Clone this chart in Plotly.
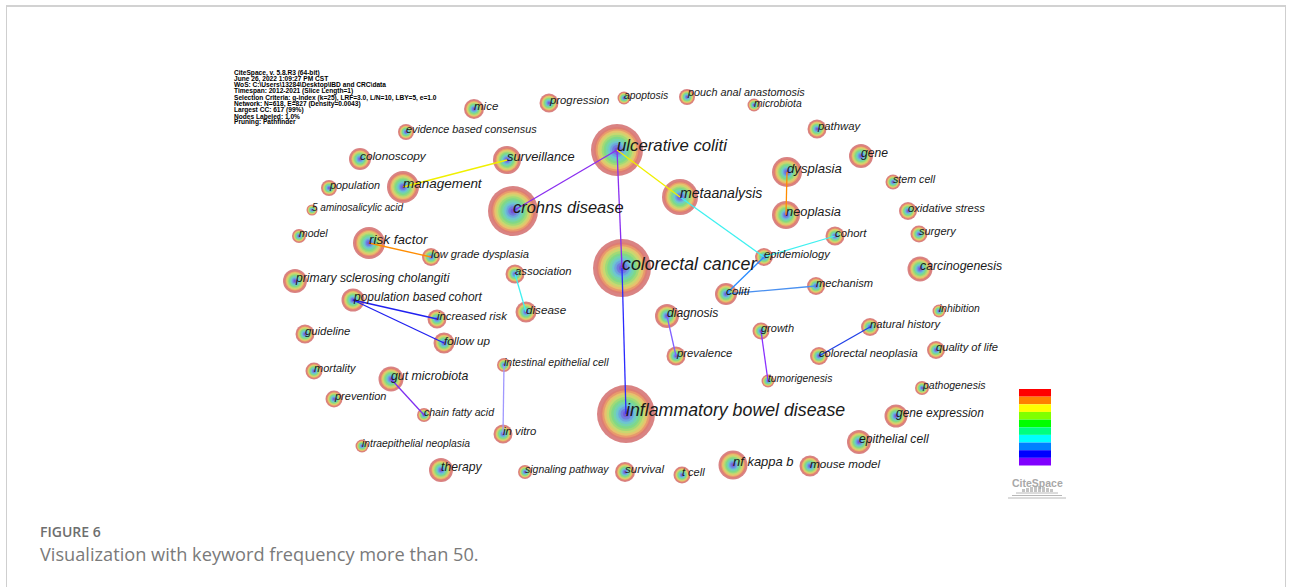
import plotly.graph_objects as go

# ---------------- data ----------------
node_names = [
    "ulcerative coliti", "crohns disease", "colorectal cancer", "inflammatory bowel disease",
    "metaanalysis", "management", "surveillance", "dysplasia", "neoplasia", "risk factor",
    "gut microbiota", "nf kappa b", "mice", "progression", "apoptosis", "pouch anal anastomosis",
    "microbiota", "pathway", "gene", "stem cell", "oxidative stress", "evidence based consensus",
    "colonoscopy", "population", "5 aminosalicylic acid", "model", "low grade dysplasia",
    "primary sclerosing cholangiti", "population based cohort", "increased risk", "follow up",
    "guideline", "association", "disease", "mortality", "prevention", "chain fatty acid",
    "intestinal epithelial cell", "in vitro", "intraepithelial neoplasia", "therapy",
    "signaling pathway", "survival", "t cell", "mouse model", "epithelial cell", "gene expression",
    "pathogenesis", "diagnosis", "prevalence", "coliti", "epidemiology", "cohort", "mechanism",
    "surgery", "carcinogenesis", "inhibition", "growth", "natural history", "colorectal neoplasia",
    "tumorigenesis", "quality of life",
]
# layout coordinates of the network (CiteSpace layout space)
node_x = [617, 513, 622, 626, 680, 403, 507, 787, 786, 369, 391, 733, 474, 549, 624, 687,
          754, 817, 861, 893, 908, 406, 360, 329, 312, 299, 431, 295, 353, 437, 444,
          305, 515, 526, 314, 334, 424, 504, 503, 362, 441, 525, 625, 682, 810, 859, 896,
          922, 667, 676, 726, 764, 835, 816, 919, 920, 939, 761, 870, 819, 768, 936]
node_y = [150, 211, 268, 414, 197, 187, 160, 172, 215, 243, 379, 465, 109, 103, 98, 97,
          105, 129, 156, 182, 211, 132, 159, 188, 210, 236, 257, 281, 300, 319, 343,
          334, 274, 312, 371, 399, 415, 365, 434, 446, 470, 472, 472, 475, 466, 442, 416,
          388, 316, 356, 294, 257, 236, 286, 234, 269, 311, 331, 327, 356, 381, 350]
# node weight (drawn diameter)
node_size = [52, 50, 58, 58, 36, 32, 28, 30, 28, 32, 25, 29, 20, 19, 13, 16,
             13, 19, 24, 15, 18, 16, 22, 16, 11, 14, 18, 24, 23, 19, 21,
             19, 19, 21, 17, 17, 14, 14, 19, 13, 24, 14, 20, 17, 21, 24, 23,
             14, 24, 19, 22, 18, 19, 18, 17, 25, 13, 17, 18, 18, 13, 18]

edge_source = ["ulcerative coliti", "ulcerative coliti", "colorectal cancer", "ulcerative coliti",
               "management", "metaanalysis", "epidemiology", "epidemiology", "coliti",
               "dysplasia", "risk factor", "association", "population based cohort",
               "population based cohort", "gut microbiota", "intestinal epithelial cell",
               "diagnosis", "growth", "natural history"]
edge_target = ["crohns disease", "colorectal cancer", "inflammatory bowel disease", "metaanalysis",
               "surveillance", "epidemiology", "cohort", "coliti", "mechanism",
               "neoplasia", "low grade dysplasia", "disease", "increased risk",
               "follow up", "chain fatty acid", "in vitro",
               "prevalence", "tumorigenesis", "colorectal neoplasia"]
edge_color = ["#8a2ef0", "#8a2ef0", "#2a2aff", "#f0f000",
              "#f0f000", "#40f0f0", "#40f0f0", "#2a8cff", "#4a90f0",
              "#ff8c00", "#ff8c00", "#40f0f0", "#2020f0",
              "#2020f0", "#8030f0", "#a098ff",
              "#8060ff", "#8a30ff", "#2040e8"]

info_lines = [
    "CiteSpace, v. 5.8.R3 (64-bit)",
    "June 26, 2022 1:09:27 PM CST",
    "WoS: C:\\Users\\13284\\Desktop\\IBD and CRC\\data",
    "Timespan: 2012-2021 (Slice Length=1)",
    "Selection Criteria: g-index (k=25), LRF=3.0, L/N=10, LBY=5, e=1.0",
    "Network: N=618, E=827 (Density=0.0043)",
    "Largest CC: 617 (99%)",
    "Nodes Labeled: 1.0%",
    "Pruning: Pathfinder",
]
legend_colors = ["#ff0000", "#ff8000", "#ffff00", "#80ff00", "#00ff00",
                 "#00ff80", "#00ffff", "#0080ff", "#0000ff", "#8000ff"]

# ---------------- styles ----------------
ring_frac = [1.0, 0.88, 0.82, 0.75, 0.67, 0.59, 0.51, 0.43, 0.35, 0.27, 0.19, 0.10]
ring_color = ["#c94f4f", "#df7a6c", "#eca66a", "#e5d46e", "#bde072", "#90db7a",
              "#72d790", "#6fd3bb", "#6cbfe0", "#6c96e4", "#7468e0", "#7646d6"]
label_dy = {"pouch anal anastomosis": -2.5, "microbiota": 1.0}

W, H = 1292, 587
fig = go.Figure()

# nodes as concentric rings
for f, c in zip(ring_frac, ring_color):
    fig.add_trace(go.Scatter(
        x=node_x, y=node_y, mode="markers", hoverinfo="skip",
        marker=dict(size=[s * f for s in node_size], color=c, line=dict(width=0)),
        showlegend=False))

# edges
pos = {n: (x, y) for n, x, y in zip(node_names, node_x, node_y)}
for s, t, c in zip(edge_source, edge_target, edge_color):
    fig.add_trace(go.Scatter(
        x=[pos[s][0], pos[t][0]], y=[pos[s][1], pos[t][1]], mode="lines",
        line=dict(color=c, width=1.3), hoverinfo="skip", showlegend=False))

annotations = []
for n, x, y, s in zip(node_names, node_x, node_y, node_size):
    fs = 8.2 + 0.165 * s
    annotations.append(dict(
        x=x - 1, y=y - 0.25 * fs + label_dy.get(n, 0), xref="x", yref="y", text=n,
        showarrow=False, xanchor="left", yanchor="middle", borderpad=0,
        font=dict(family="Liberation Sans, Arial", size=fs, color="#1a1a1a", style="italic")))

for i, line in enumerate(info_lines):
    annotations.append(dict(
        x=233, y=73 + i * 6.15, xref="x", yref="y", text="<b>" + line + "</b>",
        showarrow=False, xanchor="left", yanchor="middle", borderpad=0,
        font=dict(family="Liberation Sans, Arial", size=6.6, color="#000000")))

annotations.append(dict(x=1037, y=483, xref="x", yref="y", text="<b>CiteSpace</b>",
                        showarrow=False, xanchor="center", yanchor="middle",
                        font=dict(family="Liberation Sans, Arial", size=10.5, color="#a8a8a8")))
annotations.append(dict(x=38, y=531, xref="x", yref="y", text="FIGURE 6",
                        showarrow=False, xanchor="left", yanchor="middle",
                        font=dict(family="Open Sans", size=14, color="#6e6e6e", weight=600)))
annotations.append(dict(x=38, y=554, xref="x", yref="y",
                        text="Visualization with keyword frequency more than 50.",
                        showarrow=False, xanchor="left", yanchor="middle",
                        font=dict(family="Open Sans", size=18.2, color="#7a7a7a")))

shapes = []
# color legend bar
y0, bh = 389, 7.65
for i, c in enumerate(legend_colors):
    shapes.append(dict(type="rect", xref="x", yref="y", x0=1019, x1=1051,
                       y0=y0 + i * bh, y1=y0 + (i + 1) * bh,
                       fillcolor=c, line=dict(width=0), layer="above"))
# CiteSpace logo skyline
for xa, xb, yy in [(1008, 1066, 498), (1012, 1062, 495.5), (1016, 1058, 493)]:
    shapes.append(dict(type="line", xref="x", yref="y", x0=xa, x1=xb, y0=yy, y1=yy,
                       line=dict(color="#b8b8b8", width=1)))
for xx, hh in [(1022, 3), (1026, 4), (1030, 5), (1034, 6), (1038, 6), (1042, 5), (1046, 4), (1050, 3)]:
    shapes.append(dict(type="rect", xref="x", yref="y", x0=xx, x1=xx + 3,
                       y0=492 - hh, y1=492, fillcolor="#c4c4c4", line=dict(width=0)))
# page frame
shapes.append(dict(type="line", xref="x", yref="y", x0=6, x1=1286, y0=6, y1=6,
                   line=dict(color="#d2d2d2", width=2)))
shapes.append(dict(type="line", xref="x", yref="y", x0=6.5, x1=6.5, y0=6, y1=587,
                   line=dict(color="#cfcfcf", width=1)))
shapes.append(dict(type="line", xref="x", yref="y", x0=1285.5, x1=1285.5, y0=6, y1=587,
                   line=dict(color="#cfcfcf", width=1)))

fig.update_layout(
    width=W, height=H, margin=dict(l=0, r=0, t=0, b=0),
    paper_bgcolor="white", plot_bgcolor="white",
    xaxis=dict(range=[0, W], visible=False, fixedrange=True),
    yaxis=dict(range=[H, 0], visible=False, fixedrange=True),
    annotations=annotations, shapes=shapes, showlegend=False,
)
fig.write_html("out.html", config={"displayModeBar": False},
               post_script="document.body.style.margin='0';document.body.style.overflow='hidden';")
